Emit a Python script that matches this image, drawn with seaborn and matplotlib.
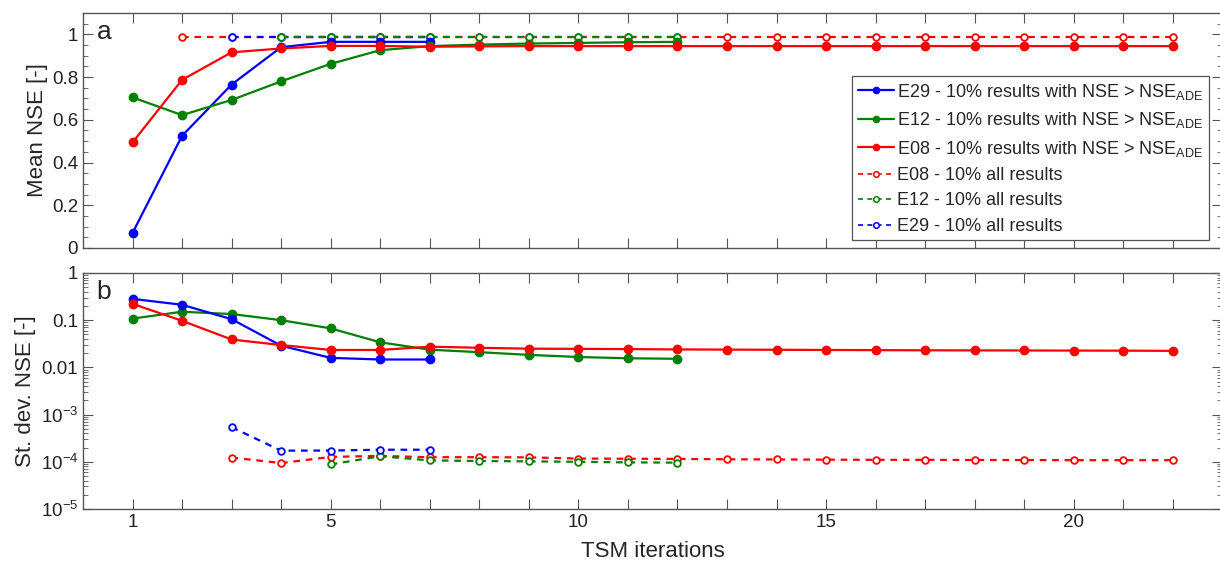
# -*- coding: utf-8 -*-
"""TSM iterations: mean and st. dev. of NSE"""
import numpy as np
import pandas as pd
import matplotlib
matplotlib.use("Agg")
import matplotlib.pyplot as plt
from matplotlib.lines import Line2D
from matplotlib.ticker import FixedLocator, FuncFormatter, LogLocator, NullFormatter, MultipleLocator
import seaborn as sns

sns.set_style("ticks")
plt.rcParams["font.family"] = ["Liberation Sans", "DejaVu Sans"]
plt.rcParams["mathtext.default"] = "regular"

# ---- data ----
it_e29 = list(range(1, 8))
it_e12 = list(range(1, 13))
it_e08 = list(range(1, 23))

mean_e29 = [0.07, 0.525, 0.765, 0.94, 0.965, 0.965, 0.965]
mean_e12 = [0.705, 0.622, 0.693, 0.78, 0.862, 0.926, 0.945, 0.952, 0.957, 0.96, 0.963, 0.965]
mean_e08 = [0.494, 0.787, 0.916, 0.934, 0.946, 0.946, 0.942, 0.944, 0.945, 0.945, 0.945,
            0.945, 0.945, 0.945, 0.945, 0.945, 0.945, 0.945, 0.945, 0.945, 0.945, 0.945]

it_all_e08_a = list(range(2, 23))
it_all_e12_a = list(range(4, 13))
it_all_e29_a = list(range(3, 8))
mean_all_e08 = [0.99] * 21
mean_all_e12 = [0.99] * 9
mean_all_e29 = [0.99] * 5

sd_e29 = [0.283, 0.212, 0.105, 0.0288, 0.0159, 0.0147, 0.0147]
sd_e12 = [0.108, 0.151, 0.135, 0.1, 0.067, 0.034, 0.0237, 0.021, 0.0184, 0.0166, 0.0156, 0.0152]
sd_e08 = [0.222, 0.097, 0.039, 0.0297, 0.0234, 0.0234, 0.0275, 0.026, 0.0249, 0.0247, 0.0244,
          0.024, 0.0238, 0.0236, 0.0234, 0.0232, 0.023, 0.0229, 0.0228, 0.0227, 0.0226, 0.0224]

it_all_e08_b = list(range(3, 23))
it_all_e12_b = list(range(5, 13))
it_all_e29_b = list(range(3, 8))
sd_all_e08 = [1.23e-4, 9.4e-5, 1.27e-4, 1.33e-4, 1.25e-4, 1.25e-4, 1.24e-4, 1.17e-4, 1.16e-4, 1.15e-4,
              1.13e-4, 1.12e-4, 1.11e-4, 1.1e-4, 1.1e-4, 1.09e-4, 1.09e-4, 1.08e-4, 1.08e-4, 1.08e-4]
sd_all_e12 = [8.8e-5, 1.31e-4, 1.07e-4, 1.04e-4, 1.02e-4, 1.0e-4, 9.7e-5, 9.6e-5]
sd_all_e29 = [5.4e-4, 1.72e-4, 1.73e-4, 1.8e-4, 1.8e-4]

BLUE, GREEN, RED = "#0000ff", "#008000", "#ff0000"
SPINE = "#555555"
DASH = (0, (3, 2.6))


def solid(ax, x, y, c):
    sns.lineplot(x=x, y=y, ax=ax, color=c, marker="o", ms=6, mec=c, mfc=c,
                 mew=1, lw=1.6, zorder=3)


def dashed(ax, x, y, c):
    sns.lineplot(x=x, y=y, ax=ax, color=c, marker="o", ms=4.8, mec=c, mfc="white",
                 mew=1.3, lw=1.6, linestyle=DASH, zorder=2)


def style_axes(ax):
    ax.set_xlim(0, 23)
    ax.xaxis.set_major_locator(FixedLocator(range(1, 23)))
    ax.xaxis.set_major_formatter(FuncFormatter(
        lambda v, p: str(int(v)) if int(v) in (1, 5, 10, 15, 20) else ""))
    ax.tick_params(which="both", direction="in", top=True, right=True,
                   colors=SPINE, labelcolor="#222222", labelsize=13.5)
    ax.tick_params(which="major", length=7, width=0.8)
    ax.tick_params(which="minor", length=3.5, width=0.6)
    for s in ax.spines.values():
        s.set_color(SPINE)
        s.set_linewidth(1.0)


fig = plt.figure(figsize=(12.2, 5.68), dpi=100)
ax_a = fig.add_axes([0.068, 0.5634, 0.934, 0.4137])
ax_b = fig.add_axes([0.068, 0.1039, 0.934, 0.4155])

# ---- panel a ----
dashed(ax_a, it_all_e08_a, mean_all_e08, RED)
dashed(ax_a, it_all_e29_a, mean_all_e29, BLUE)
dashed(ax_a, it_all_e12_a, mean_all_e12, GREEN)
solid(ax_a, it_e29, mean_e29, BLUE)
solid(ax_a, it_e12, mean_e12, GREEN)
solid(ax_a, it_e08, mean_e08, RED)
ax_a.set_ylim(0, 1.1)
ax_a.yaxis.set_major_locator(FixedLocator([0, 0.2, 0.4, 0.6, 0.8, 1.0]))
ax_a.yaxis.set_major_formatter(FuncFormatter(lambda v, p: "%g" % round(v, 2)))
ax_a.yaxis.set_minor_locator(MultipleLocator(0.05))
style_axes(ax_a)
ax_a.set_xticklabels([])
ax_a.set_ylabel("Mean NSE [-]", fontsize=16, labelpad=3)
ax_a.text(0.012, 0.97, "a", transform=ax_a.transAxes, fontsize=19, va="top", ha="left")

lbl_sub = r" - 10% results with NSE > NSE$_{ADE}$"
handles = [
    Line2D([], [], color=BLUE, marker="o", ms=4.5, lw=1.6),
    Line2D([], [], color=GREEN, marker="o", ms=4.5, lw=1.6),
    Line2D([], [], color=RED, marker="o", ms=4.5, lw=1.6),
    Line2D([], [], color=RED, marker="o", ms=4, mfc="white", mew=1.1, lw=1.2, linestyle=DASH),
    Line2D([], [], color=GREEN, marker="o", ms=4, mfc="white", mew=1.1, lw=1.2, linestyle=DASH),
    Line2D([], [], color=BLUE, marker="o", ms=4, mfc="white", mew=1.1, lw=1.2, linestyle=DASH),
]
labels = ["E29" + lbl_sub, "E12" + lbl_sub, "E08" + lbl_sub,
          "E08 - 10% all results", "E12 - 10% all results", "E29 - 10% all results"]
leg = ax_a.legend(handles, labels, loc="upper right", bbox_to_anchor=(0.991, 0.866),
                  bbox_transform=fig.transFigure, borderaxespad=0, fontsize=13,
                  handlelength=2.0, handletextpad=0.2, labelspacing=0.47,
                  borderpad=0.3, fancybox=False, framealpha=1)
leg.get_frame().set_edgecolor(SPINE)
leg.get_frame().set_linewidth(0.9)

# ---- panel b ----
dashed(ax_b, it_all_e08_b, sd_all_e08, RED)
dashed(ax_b, it_all_e12_b, sd_all_e12, GREEN)
dashed(ax_b, it_all_e29_b, sd_all_e29, BLUE)
solid(ax_b, it_e12, sd_e12, GREEN)
solid(ax_b, it_e29, sd_e29, BLUE)
solid(ax_b, it_e08, sd_e08, RED)
ax_b.set_yscale("log")
ax_b.set_ylim(1e-5, 1)
ax_b.yaxis.set_major_locator(FixedLocator([1e-5, 1e-4, 1e-3, 1e-2, 1e-1, 1]))
ytl = {1e-5: "$10^{-5}$", 1e-4: "$10^{-4}$", 1e-3: "$10^{-3}$", 1e-2: "0.01", 1e-1: "0.1", 1: "1"}
ax_b.yaxis.set_major_formatter(FuncFormatter(
    lambda v, p: next((t for k, t in ytl.items() if np.isclose(v, k)), "")))
ax_b.yaxis.set_minor_locator(LogLocator(base=10, subs=np.arange(2, 10), numticks=20))
ax_b.yaxis.set_minor_formatter(NullFormatter())
style_axes(ax_b)
ax_b.set_ylabel("St. dev. NSE [-]", fontsize=16, labelpad=3)
ax_b.set_xlabel("TSM iterations", fontsize=16, labelpad=7)
ax_b.text(0.012, 0.97, "b", transform=ax_b.transAxes, fontsize=19, va="top", ha="left")

fig.savefig("out.png", dpi=100)
plt.close(fig)
